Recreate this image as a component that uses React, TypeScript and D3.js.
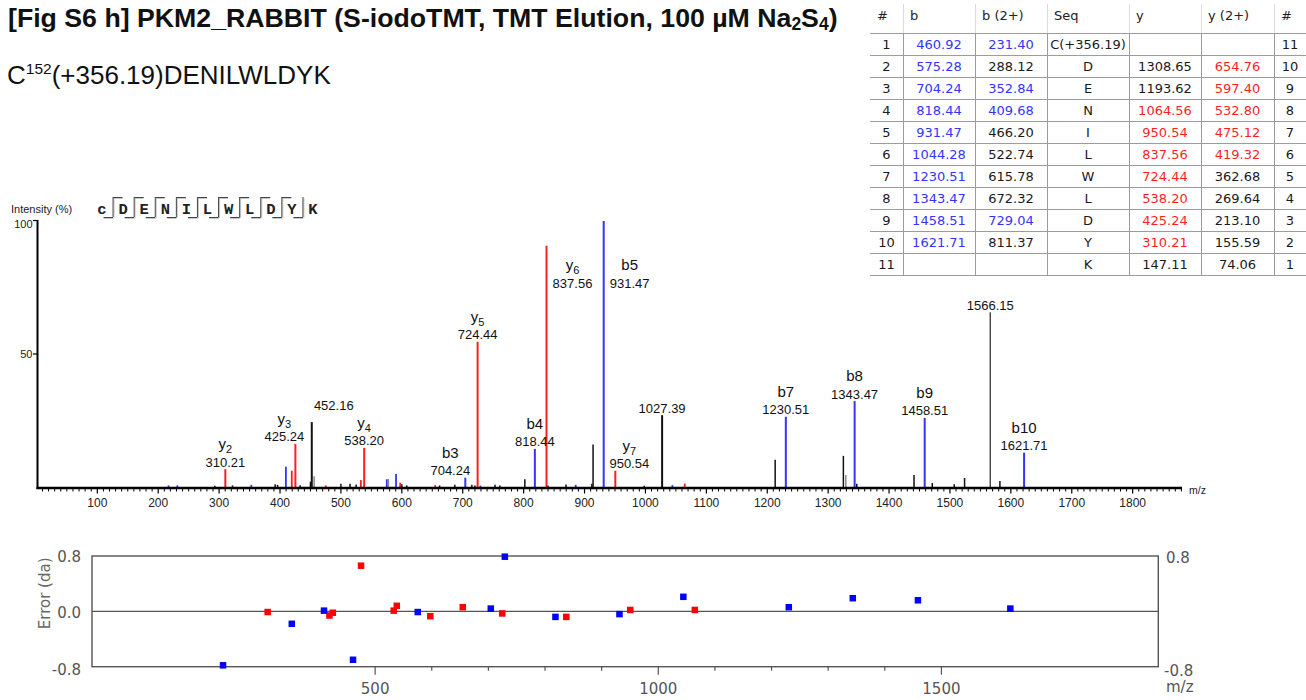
import React from 'react';
import * as d3 from 'd3';

// ---------- spectrum: annotated peaks ----------
const labeledMz = [310.21, 425.24, 452.16, 538.2, 704.24, 724.44, 818.44, 837.56, 931.47, 950.54, 1027.39, 1230.51, 1343.47, 1458.51, 1566.15, 1621.71];
const labeledInt = [6.7, 16.2, 24.4, 14.7, 3.5, 54.6, 14.3, 90.7, 100, 6.1, 27.0, 26.4, 32.3, 26.0, 65.7, 12.9];
const labeledIon = ['y2', 'y3', '', 'y4', 'b3', 'y5', 'b4', 'y6', 'b5', 'y7', '', 'b7', 'b8', 'b9', '', 'b10'];

// unlabeled b-series peaks (blue)
const bPeakMz = [217.0, 231.4, 352.84, 409.68, 575.28, 590.5, 729.04, 885.5, 1044.28];
const bPeakInt = [0.6, 0.6, 0.8, 7.6, 2.9, 4.9, 0.5, 0.8, 0.7];
// unlabeled y-series peaks (red)
const yPeakMz = [419.32, 475.12, 532.8, 597.4, 654.76, 1064.56];
const yPeakInt = [6.1, 0.6, 2.6, 1.6, 0.7, 1.3];
// unassigned peaks
const otherMz = [293, 322, 392, 396, 433, 450, 500, 515, 525, 600, 608, 662, 687, 715, 720, 753, 761, 802, 840, 869.6, 912, 914, 998, 1213, 1325, 1347, 1441, 1471, 1507, 1524, 1582];
const otherInt = [0.5, 0.6, 1.0, 0.8, 0.7, 2.0, 1.2, 1.2, 0.9, 1.0, 0.6, 0.6, 0.8, 0.8, 0.6, 0.8, 0.6, 2.9, 0.6, 0.9, 1.2, 16.0, 0.5, 10.2, 11.7, 1.2, 4.5, 1.5, 1.0, 3.4, 2.3];
const faintMz = [456, 578, 1329];
const faintInt = [4.0, 3.0, 4.5];

// ---------- mass error plot ----------
const bErrMz = [231.4, 352.84, 409.68, 460.92, 575.28, 704.24, 729.04, 818.44, 931.47, 1044.28, 1230.51, 1343.47, 1458.51, 1621.71];
const bErr = [-0.78, -0.18, 0.01, -0.7, -0.01, 0.04, 0.79, -0.08, -0.04, 0.21, 0.06, 0.19, 0.16, 0.04];
const yErrMz = [310.21, 419.32, 425.24, 475.12, 532.8, 538.2, 597.4, 654.76, 724.44, 837.56, 950.54, 1064.56];
const yErr = [-0.01, -0.06, -0.02, 0.66, 0.01, 0.08, -0.07, 0.06, -0.03, -0.08, 0.02, 0.02];

// ---------- peptide / fragment table ----------
const residues = ['c', 'D', 'E', 'N', 'I', 'L', 'W', 'L', 'D', 'Y', 'K'];
const bCleavageSeen = [true, true, true, true, true, true, true, true, true, true];
const yCleavageSeen = [true, true, true, true, true, true, true, true, true, false];

const tableHeaders = ['#', 'b', 'b (2+)', 'Seq', 'y', 'y (2+)', '#'];
const rowIndex = [1, 2, 3, 4, 5, 6, 7, 8, 9, 10, 11];
const colB = ['460.92', '575.28', '704.24', '818.44', '931.47', '1044.28', '1230.51', '1343.47', '1458.51', '1621.71', ''];
const colB2 = ['231.40', '288.12', '352.84', '409.68', '466.20', '522.74', '615.78', '672.32', '729.04', '811.37', ''];
const colSeq = ['C(+356.19)', 'D', 'E', 'N', 'I', 'L', 'W', 'L', 'D', 'Y', 'K'];
const colY = ['', '1308.65', '1193.62', '1064.56', '950.54', '837.56', '724.44', '538.20', '425.24', '310.21', '147.11'];
const colY2 = ['', '654.76', '597.40', '532.80', '475.12', '419.32', '362.68', '269.64', '213.10', '155.59', '74.06'];
const rowIndexRev = [11, 10, 9, 8, 7, 6, 5, 4, 3, 2, 1];
const hitB = [true, true, true, true, true, true, true, true, true, true, false];
const hitB2 = [true, false, true, true, false, false, false, false, true, false, false];
const hitY = [false, false, false, true, true, true, true, true, true, true, false];
const hitY2 = [false, true, true, true, true, true, false, false, false, false, false];

// label placement tweaks (pixels) for crowded peaks
const labelLayout: Record<string, { dx?: number; dy?: number; side?: boolean }> = {
  '425.24': { dx: -11 },
  '452.16': { dx: 22, dy: -10 },
  '704.24': { dx: -15 },
  '950.54': { dx: 14 },
  '837.56': { side: true },
  '931.47': { side: true },
};

const BLUE = '#3434ff';
const RED = '#ff1f1f';
const SANS = '"Liberation Sans", Arial, Helvetica, sans-serif';
const UI = '"DejaVu Sans", Verdana, sans-serif';

function IonLabel({ name, x, y }: { name: string; x: number; y: number }) {
  if (name.startsWith('y')) {
    return (
      <text x={x} y={y} textAnchor="middle" fontSize={15} fontFamily={SANS} fill="#111">
        <tspan>y</tspan>
        <tspan fontSize={11} dy={4}>{name.slice(1)}</tspan>
      </text>
    );
  }
  return (
    <text x={x} y={y} textAnchor="middle" fontSize={15} fontFamily={SANS} fill="#111">
      {name}
    </text>
  );
}

export default function App() {
  const sx = d3.scaleLinear().domain([0, 1881]).range([36.4, 1182]);
  const sy = d3.scaleLinear().domain([0, 100]).range([487, 221]);
  const ex = d3.scaleLinear().domain([0, 1883]).range([92, 1158.3]);
  const ey = d3.scaleLinear().domain([-0.8, 0.8]).range([666.7, 556]);
  const axisY = sy(0) + 1;

  const majorTicks = d3.range(100, 1801, 100);
  const minorTicks = d3.range(10, 1881, 10).filter((v) => v % 100 !== 0);
  const errTicks = d3.range(500, 1501, 100);

  const seqPos = d3.scalePoint<number>().domain(d3.range(residues.length)).range([102, 313]);

  const colEdges = [870, 903, 975, 1047, 1129, 1201, 1274, 1306];
  const rowY = d3.scaleLinear().domain([0, 11]).range([33, 275]);
  const colCenter = (c: number) => (colEdges[c] + colEdges[c + 1]) / 2;
  const columns: { vals: (string | number)[]; hits?: boolean[]; color?: string }[] = [
    { vals: rowIndex },
    { vals: colB, hits: hitB, color: BLUE },
    { vals: colB2, hits: hitB2, color: BLUE },
    { vals: colSeq },
    { vals: colY, hits: hitY, color: RED },
    { vals: colY2, hits: hitY2, color: RED },
    { vals: rowIndexRev },
  ];

  const stick = (mz: number, inten: number, color: string, w: number, key: string) => (
    <line key={key} x1={sx(mz)} x2={sx(mz)} y1={axisY} y2={sy(inten)} stroke={color} strokeWidth={w} />
  );

  return (
    <svg
      width={1306}
      height={700}
      style={{ position: 'absolute', left: 0, top: 0, background: '#fff' }}
    >
      {/* title */}
      <text x={8} y={27} fontFamily={SANS} fontWeight="bold" fontSize={26.7} fill="#111">
        [Fig S6 h] PKM2_RABBIT (S-iodoTMT, TMT Elution, 100 µM Na
        <tspan fontSize={17.5} dy={3}>2</tspan>
        <tspan dy={-3}>S</tspan>
        <tspan fontSize={17.5} dy={3}>4</tspan>
        <tspan dy={-3}>)</tspan>
      </text>
      <text x={7} y={84} fontFamily={SANS} fontSize={26} fill="#111">
        C<tspan fontSize={15.5} dy={-10}>152</tspan>
        <tspan dy={10}>(+356.19)DENILWLDYK</tspan>
      </text>

      {/* fragment table */}
      <g fontFamily={UI} fontSize={13}>
        {colEdges.slice(1, -1).map((x, i) => (
          <line key={'hs' + i} x1={x + 0.5} x2={x + 0.5} y1={4} y2={33} stroke="#dcdcdc" />
        ))}
        {tableHeaders.map((h, i) => (
          <text key={'h' + i} x={colEdges[i] + 7} y={15} dy="0.35em" fill="#222">
            {h}
          </text>
        ))}
        {d3.range(12).map((r) => (
          <line key={'rl' + r} x1={870} x2={1306} y1={rowY(r) + 0.5} y2={rowY(r) + 0.5} stroke="#9c9c9c" />
        ))}
        {colEdges.slice(1, -1).map((x, i) => (
          <line key={'vl' + i} x1={x + 0.5} x2={x + 0.5} y1={33} y2={275} stroke="#9c9c9c" />
        ))}
        {columns.map((col, c) =>
          col.vals.map((v, r) =>
            v === '' ? null : (
              <text
                key={`c${c}r${r}`}
                x={colCenter(c)}
                y={rowY(r) + 11}
                dy="0.35em"
                textAnchor="middle"
                fill={col.hits && col.hits[r] ? col.color : '#1a1a1a'}
              >
                {v}
              </text>
            )
          )
        )}
      </g>

      {/* peptide fragment ladder */}
      <text x={11} y={213} fontFamily={SANS} fontSize={11} fill="#222">
        Intensity (%)
      </text>
      <g>
        {residues.map((r, i) => (
          <text
            key={'res' + i}
            x={seqPos(i)}
            y={214}
            textAnchor="middle"
            fontFamily='"Liberation Mono", "Courier New", monospace'
            fontWeight="bold"
            fontSize={15.5}
            fill="#222"
          >
            {r}
          </text>
        ))}
        {d3.range(residues.length - 1).map((i) => {
          const x = ((seqPos(i) as number) + (seqPos(i + 1) as number)) / 2;
          return (
            <g key={'sep' + i} fill="none">
              <path d={`M${x + 1.5},198 V218`} stroke="#c8c8c8" />
              {bCleavageSeen[i] && <path d={`M${x - 9},218.5 H${x + 1}`} stroke="#c8c8c8" />}
              {yCleavageSeen[i] && <path d={`M${x + 1},198.5 H${x + 10}`} stroke="#c8c8c8" />}
              <path d={`M${x + 0.5},197 V217`} stroke="#444" />
              {bCleavageSeen[i] && <path d={`M${x - 9},217.5 H${x + 0.5}`} stroke="#444" />}
              {yCleavageSeen[i] && <path d={`M${x + 0.5},197.5 H${x + 10}`} stroke="#444" />}
            </g>
          );
        })}
      </g>

      {/* spectrum axes */}
      <line x1={37.5} x2={37.5} y1={sy(100) - 1} y2={axisY + 1} stroke="#000" strokeWidth={2} />
      {[100, 50].map((v) => (
        <g key={'yt' + v}>
          <line x1={33} x2={37.5} y1={sy(v) - (v === 100 ? 0.5 : 0)} y2={sy(v) - (v === 100 ? 0.5 : 0)} stroke="#000" strokeWidth={1.2} />
          <text x={32.5} y={sy(v) + (v === 100 ? 3 : 0)} dy="0.35em" textAnchor="end" fontFamily={SANS} fontSize={11} fill="#222">
            {v}
          </text>
        </g>
      ))}
      {minorTicks.map((t) => (
        <line key={'mt' + t} x1={sx(t)} x2={sx(t)} y1={axisY} y2={axisY + 3.5} stroke="#000" strokeWidth={1} />
      ))}
      {majorTicks.map((t) => (
        <g key={'Mt' + t}>
          <line x1={sx(t)} x2={sx(t)} y1={axisY} y2={axisY + 5.5} stroke="#000" strokeWidth={1.2} />
          <text x={sx(t)} y={503} dy="0.35em" textAnchor="middle" fontFamily={SANS} fontSize={12} fill="#222">
            {t}
          </text>
        </g>
      ))}
      <text x={1189} y={490} dy="0.35em" fontFamily={SANS} fontSize={10.5} fill="#222">
        m/z
      </text>

      {/* peaks */}
      {otherMz.map((m, i) => stick(m, otherInt[i], '#111', 1.5, 'o' + i))}
      {faintMz.map((m, i) => stick(m, faintInt[i], '#8a8a8a', 1.5, 'f' + i))}
      {bPeakMz.map((m, i) => stick(m, bPeakInt[i], BLUE, 1.8, 'bp' + i))}
      {yPeakMz.map((m, i) => stick(m, yPeakInt[i], RED, 1.8, 'yp' + i))}
      {labeledMz.map((m, i) => {
        const ion = labeledIon[i];
        const color = ion.startsWith('b') ? BLUE : ion.startsWith('y') ? RED : m === 1566.15 ? '#333' : '#111';
        return stick(m, labeledInt[i], color, m === 1566.15 ? 1.3 : 2, 'lp' + i);
      })}
      <line x1={36.5} x2={1182} y1={axisY} y2={axisY} stroke="#000" strokeWidth={2.6} />

      {/* peak labels */}
      {labeledMz.map((m, i) => {
        const key = m.toFixed(2);
        const lay = labelLayout[key] || {};
        const px = sx(m);
        const top = sy(labeledInt[i]);
        const ion = labeledIon[i];
        if (lay.side) {
          const cx = px + 26;
          return (
            <g key={'lab' + i}>
              <IonLabel name={ion} x={cx} y={sy(100) + 49} />
              <text x={cx} y={sy(100) + 67} textAnchor="middle" fontFamily={SANS} fontSize={13} fill="#111">
                {key}
              </text>
            </g>
          );
        }
        const cx = px + (lay.dx || 0);
        const base = top + (lay.dy || 0);
        return (
          <g key={'lab' + i}>
            {ion && <IonLabel name={ion} x={cx} y={base - 20} />}
            <text x={cx} y={base - 2.5} textAnchor="middle" fontFamily={SANS} fontSize={13} fill="#111">
              {key}
            </text>
          </g>
        );
      })}

      {/* mass error plot */}
      <g fontFamily={UI} fill="#555">
        <rect x={ex(0)} y={ey(0.8)} width={ex(1883) - ex(0)} height={ey(-0.8) - ey(0.8)} fill="none" stroke="#555" strokeWidth={1.4} />
        <line x1={ex(0)} x2={ex(1883)} y1={ey(0)} y2={ey(0)} stroke="#555" strokeWidth={1.4} />
        {errTicks.map((t) => (
          <line key={'et' + t} x1={ex(t)} x2={ex(t)} y1={ey(-0.8)} y2={ey(-0.8) + (t % 500 === 0 ? 8 : 4)} stroke="#555" strokeWidth={1.2} />
        ))}
        {[500, 1000, 1500].map((t) => (
          <text key={'el' + t} x={ex(t)} y={688.5} dy="0.35em" textAnchor="middle" fontSize={15}>
            {t}
          </text>
        ))}
        {[0.8, 0, -0.8].map((v) => (
          <text key={'ely' + v} x={81} y={ey(v) + (v === -0.8 ? 3 : 1)} dy="0.35em" textAnchor="end" fontSize={15}>
            {v.toFixed(1)}
          </text>
        ))}
        <text x={1166} y={ey(0.8) + 2} dy="0.35em" fontSize={15}>0.8</text>
        <text x={1164} y={ey(-0.8) + 4} dy="0.35em" fontSize={15}>-0.8</text>
        <text x={1166} y={687} dy="0.35em" fontSize={15}>m/z</text>
        <text transform={`translate(50,${ey(0) - 18}) rotate(-90)`} textAnchor="middle" fontSize={15} fill="#666">
          Error (da)
        </text>
        {yErrMz.map((m, i) => (
          <rect key={'ye' + i} x={ex(m) - 3.25} y={ey(yErr[i]) - 3.25} width={6.5} height={6.5} fill="#ff0000" />
        ))}
        {bErrMz.map((m, i) => (
          <rect key={'be' + i} x={ex(m) - 3.25} y={ey(bErr[i]) - 3.25} width={6.5} height={6.5} fill="#0000ff" />
        ))}
      </g>
    </svg>
  );
}
